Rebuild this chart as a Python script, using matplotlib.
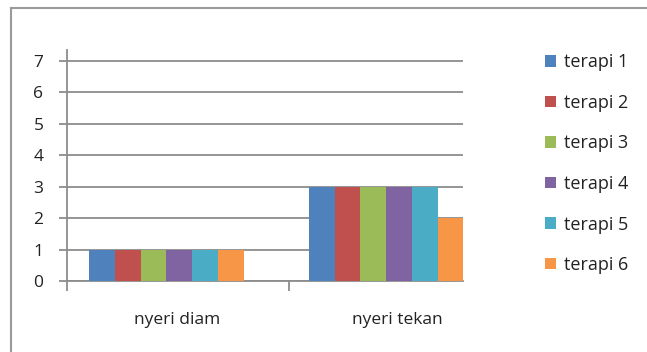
import numpy as np
import matplotlib.pyplot as plt
from matplotlib.lines import Line2D
from matplotlib.patches import Patch
import matplotlib.transforms as mtransforms

categories = ["nyeri diam", "nyeri tekan"]
series = ["terapi 1", "terapi 2", "terapi 3", "terapi 4", "terapi 5", "terapi 6"]
values = [
    [1, 3],
    [1, 3],
    [1, 3],
    [1, 3],
    [1, 3],
    [1, 2],
]
colors = ["#4F81BD", "#C0504D", "#9BBB59", "#8064A2", "#4BACC6", "#F79646"]

plt.rcParams["font.family"] = ["Open Sans", "DejaVu Sans"]
fs = 12.5
tc = "#222222"

fig = plt.figure(figsize=(6.47, 3.52), dpi=100)
ax = fig.add_axes([67 / 647, 1 - 281 / 352, (463 - 67) / 647, (281 - 50) / 352])

x = np.arange(len(categories))
w = 0.1175
for i, (name, vals) in enumerate(zip(series, values)):
    ax.bar(x + (i - 2.5) * w, vals, w, color=colors[i], label=name, zorder=3)

ax.set_xlim(-0.453, 1.350)
ax.set_ylim(0, 7.35)
ax.set_yticks(range(8))
ax.yaxis.grid(True, color="#8c8c8c", linewidth=1.3, zorder=0)
for s in ["top", "right"]:
    ax.spines[s].set_visible(False)
for s in ["left", "bottom"]:
    ax.spines[s].set_color("#8c8c8c")
    ax.spines[s].set_linewidth(1.3)
ax.tick_params(axis="y", length=6, width=1.3, color="#8c8c8c", labelsize=fs,
               labelcolor=tc, pad=11)

# category divider ticks below the axis, labels shifted a bit right
ax.set_xticks([-0.453, 0.558])
ax.set_xticklabels([])
ax.tick_params(axis="x", length=7, width=1.3, color="#8c8c8c")
offset = mtransforms.ScaledTranslation(11 / 100, 0, fig.dpi_scale_trans)
for xi, lab in zip(x, categories):
    ax.text(xi, -1.25, lab, ha="center", va="center", fontsize=fs, color=tc,
            transform=ax.transData + offset, clip_on=False)

handles = [Patch(facecolor=c, label=n) for c, n in zip(colors, series)]
fig.legend(handles=handles, loc="upper left", bbox_to_anchor=(529 / 647, 1 - 37 / 352),
           frameon=False, fontsize=13, handlelength=0.6, handleheight=0.6,
           handletextpad=0.42, labelspacing=1.25, labelcolor=tc)

# chart area border
fig.add_artist(Line2D([11 / 647, 11 / 647], [0, 1 - 8 / 352], transform=fig.transFigure,
                      color="#9a9a9a", linewidth=1.5))
fig.add_artist(Line2D([11 / 647, 1], [1 - 8 / 352, 1 - 8 / 352], transform=fig.transFigure,
                      color="#9a9a9a", linewidth=1.5))

fig.savefig("out.png", dpi=100)
